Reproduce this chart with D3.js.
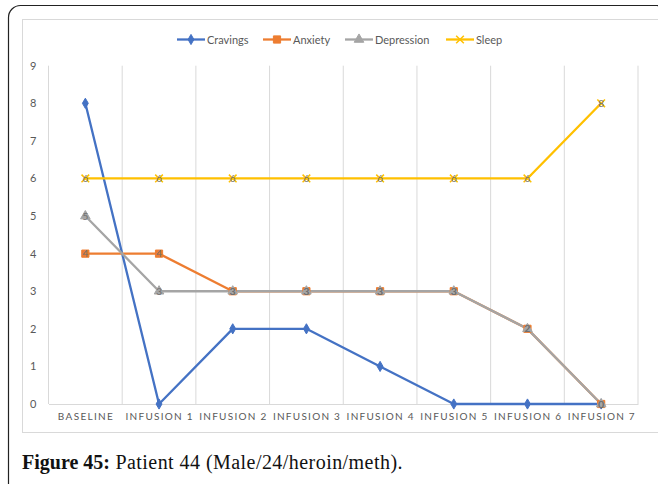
<!DOCTYPE html>
<html>
<head>
<meta charset="utf-8">
<script src="https://cdn.jsdelivr.net/npm/d3@7"></script>
<style>
  html, body { margin: 0; padding: 0; background: #fff; }
  svg { display: block; }
</style>
</head>
<body>
<svg id="chart" width="658" height="484"></svg>
<script>
// Session categories and scores per symptom
const categories = ["BASELINE", "INFUSION 1", "INFUSION 2", "INFUSION 3", "INFUSION 4", "INFUSION 5", "INFUSION 6", "INFUSION 7"];
const cravings   = [8, 0, 2, 2, 1, 0, 0, 0];
const anxiety    = [4, 4, 3, 3, 3, 3, 2, 0];
const depression = [5, 3, 3, 3, 3, 3, 2, 0];
const sleep      = [6, 6, 6, 6, 6, 6, 6, 8];
const yTicks     = [0, 1, 2, 3, 4, 5, 6, 7, 8, 9];
const seriesNames = ["Cravings", "Anxiety", "Depression", "Sleep"];
const caption = { bold: "Figure 45:", rest: " Patient 44 (Male/24/heroin/meth)." };

const series = [
  { name: seriesNames[0], values: cravings,   color: "#4472C4", marker: "diamond",  labels: false },
  { name: seriesNames[1], values: anxiety,    color: "#ED7D31", marker: "square",   labels: true },
  { name: seriesNames[2], values: depression, color: "#A5A5A5", marker: "triangle", labels: true },
  { name: seriesNames[3], values: sleep,      color: "#FFC000", marker: "cross",    labels: true }
];

const svg = d3.select("#chart");

// Outer rounded frame and inner chart box
svg.append("rect").attr("x", 8.5).attr("y", 5.5).attr("width", 660).attr("height", 490)
  .attr("rx", 12).attr("fill", "none").attr("stroke", "#222").attr("stroke-width", 1.2);
svg.append("rect").attr("x", 22.5).attr("y", 19.5).attr("width", 650).attr("height", 413)
  .attr("fill", "#fff").attr("stroke", "#d9d9d9").attr("stroke-width", 1);

const plot = { left: 48.5, right: 638, top: 65.7, bottom: 404 };

const x = d3.scaleBand().domain(categories).range([plot.left, plot.right]).paddingInner(0).paddingOuter(0);
const y = d3.scaleLinear().domain([0, 9]).range([plot.bottom, plot.top]);
const cx = c => x(c) + x.bandwidth() / 2;

// Vertical gridlines at category boundaries
const bounds = categories.map(c => x(c)).concat([plot.right]);
svg.append("g").selectAll("line").data(bounds).join("line")
  .attr("x1", d => d).attr("x2", d => d)
  .attr("y1", y(9)).attr("y2", y(0))
  .attr("stroke", "#d9d9d9").attr("stroke-width", 1);

// Category axis, with spaced-out capitals
const xAxis = svg.append("g").attr("transform", `translate(0,${y(0)})`)
  .call(d3.axisBottom(x).tickSize(0).tickPadding(9));
xAxis.select(".domain").attr("stroke", "#d9d9d9").attr("stroke-width", 1.2);
xAxis.selectAll("text")
  .attr("font-family", "Lato, 'Open Sans', sans-serif")
  .attr("font-size", 10)
  .attr("fill", "#595959")
  .attr("textLength", d => d.length === 8 ? 55 : 67)
  .attr("lengthAdjust", "spacing");

// Value axis (labels only)
const yAxis = svg.append("g").attr("transform", `translate(${plot.left},0)`)
  .call(d3.axisLeft(y).tickValues(yTicks).tickSize(0).tickPadding(12));
yAxis.select(".domain").remove();
yAxis.selectAll("text")
  .attr("font-family", "Lato, 'Open Sans', sans-serif")
  .attr("font-size", 11)
  .attr("fill", "#595959");

// Marker shapes
const symbolFor = {
  diamond: d3.symbol().type(d3.symbolDiamond).size(30),
  square: d3.symbol().type(d3.symbolSquare).size(52),
  triangle: d3.symbol().type(d3.symbolTriangle).size(40),
  cross: d3.symbol().type(d3.symbolTimes).size(40)
};

const line = d3.line().x((d, i) => cx(categories[i])).y(d => y(d));

// Lines first, then markers and value labels on top of every line
const linesLayer = svg.append("g");
const marksLayer = svg.append("g");

series.forEach(s => {
  linesLayer.append("path").datum(s.values)
    .attr("d", line)
    .attr("fill", "none")
    .attr("stroke", s.color)
    .attr("stroke-width", 2.3)
    .attr("stroke-linejoin", "round");
});

series.forEach(s => {
  const g = marksLayer.append("g");
  g.selectAll("path").data(s.values).join("path")
    .attr("transform", (d, i) => `translate(${cx(categories[i])},${y(d)})`)
    .attr("d", symbolFor[s.marker])
    .attr("fill", s.marker === "cross" ? "none" : s.color)
    .attr("stroke", s.color)
    .attr("stroke-width", s.marker === "cross" ? 1.5 : 1);
});

series.filter(s => s.labels).forEach(s => {
  marksLayer.append("g").selectAll("text").data(s.values).join("text")
    .attr("x", (d, i) => cx(categories[i]))
    .attr("y", d => y(d) + 3.6)
    .attr("text-anchor", "middle")
    .attr("font-family", "Lato, 'Open Sans', sans-serif")
    .attr("font-size", 10)
    .attr("fill", "#6f6f6f")
    .text(d => d);
});

// Legend
const legendX = [177, 263, 345, 446];
const legend = svg.append("g");
series.forEach((s, i) => {
  const lx = legendX[i], ly = 39.5;
  legend.append("line").attr("x1", lx).attr("x2", lx + 28).attr("y1", ly).attr("y2", ly)
    .attr("stroke", s.color).attr("stroke-width", 2.3);
  legend.append("path")
    .attr("transform", `translate(${lx + 14},${ly})`)
    .attr("d", symbolFor[s.marker])
    .attr("fill", s.marker === "cross" ? "none" : s.color)
    .attr("stroke", s.color)
    .attr("stroke-width", s.marker === "cross" ? 1.5 : 1);
  legend.append("text").attr("x", lx + 30).attr("y", ly + 4)
    .attr("font-family", "Lato, 'Open Sans', sans-serif")
    .attr("font-size", 11)
    .attr("fill", "#595959")
    .text(s.name);
});

// Caption
const cap = svg.append("text").attr("x", 22).attr("y", 469)
  .attr("font-family", "'Liberation Serif', 'DejaVu Serif', serif")
  .attr("font-size", 20)
  .attr("fill", "#111");
cap.append("tspan").attr("font-weight", "bold").text(caption.bold);
cap.append("tspan").attr("letter-spacing", "0.45px").text(caption.rest);
</script>
</body>
</html>
